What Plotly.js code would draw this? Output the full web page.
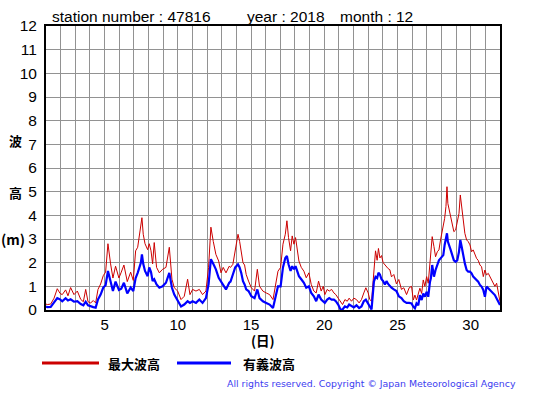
<!DOCTYPE html>
<html>
<head>
<meta charset="utf-8">
<script src="https://cdn.plot.ly/plotly-3.0.1.min.js"></script>
<style>html,body{margin:0;padding:0;background:#fff;}#chart{width:555px;height:395px;}</style>
</head>
<body>
<div id="chart"></div>
<script>
// Time in days of December 2018 (1.0 = start of day 1)
var days = [1.00,1.09,1.32,1.55,1.77,1.96,2.11,2.34,2.5,2.68,2.91,3.14,3.37,3.55,3.71,3.87,4.05,4.23,4.39,4.55,4.73,4.91,5.07,5.23,5.41,5.57,5.75,5.98,6.14,6.32,6.55,6.78,6.96,7.12,7.26,7.37,7.48,7.55,7.64,7.76,7.94,8.05,8.17,8.28,8.39,8.55,8.74,8.96,9.19,9.42,9.6,9.76,9.99,10.22,10.44,10.67,10.83,11.01,11.24,11.47,11.69,11.92,12.1,12.26,12.42,12.6,12.79,12.95,13.1,13.29,13.51,13.6,13.76,13.92,14.11,14.22,14.33,14.45,14.56,14.67,14.83,15.02,15.24,15.43,15.58,15.81,16.04,16.27,16.5,16.65,16.84,17.02,17.18,17.34,17.45,17.56,17.7,17.81,17.93,18.04,18.16,18.27,18.43,18.61,18.77,18.95,19.11,19.29,19.45,19.61,19.79,19.93,20.04,20.2,20.34,20.5,20.66,20.79,20.95,21.11,21.25,21.41,21.57,21.7,21.86,22.02,22.2,22.38,22.54,22.7,22.84,23.0,23.11,23.23,23.39,23.5,23.61,23.7,23.8,23.91,24.02,24.14,24.25,24.36,24.48,24.59,24.75,24.93,25.09,25.27,25.43,25.62,25.8,25.96,26.08,26.19,26.3,26.42,26.53,26.65,26.76,26.87,26.99,27.1,27.22,27.28,27.37,27.49,27.6,27.72,27.83,27.94,28.06,28.13,28.22,28.31,28.38,28.44,28.53,28.63,28.74,28.85,28.97,29.08,29.2,29.29,29.38,29.49,29.6,29.72,29.83,29.95,30.06,30.17,30.29,30.4,30.51,30.63,30.74,30.86,30.97,31.08,31.2,31.31,31.42,31.54,31.65,31.77,31.88,32.0];

// 最大波高 (maximum wave height, m)
var maxWave = [0.25,0.23,0.25,0.5,0.9,0.7,0.65,0.85,0.6,0.95,0.65,0.8,0.45,0.35,0.87,0.35,0.3,0.4,0.3,0.87,1.1,1.45,1.6,2.8,1.95,1.35,1.85,1.35,1.6,1.9,1.2,1.6,1.25,2.5,2.65,3.06,3.55,3.9,3.2,2.8,2.55,2.8,2.5,1.95,2.85,1.8,1.57,1.72,1.8,2.65,1.3,0.94,0.8,0.44,0.58,1.3,0.65,0.87,0.8,0.87,0.65,0.8,1.8,3.5,2.9,2.35,2.07,1.57,1.8,1.57,1.85,1.8,1.93,2.5,3.2,2.9,2.5,2.0,1.9,1.5,1.22,0.94,0.8,1.72,1.0,0.8,0.72,0.65,0.44,0.94,1.64,1.8,2.78,3.2,3.77,3.06,2.5,3.13,2.78,3.06,2.57,2.07,1.8,1.64,1.36,1.57,1.08,0.8,0.72,1.22,0.8,1.0,0.65,0.87,0.8,0.87,0.72,0.65,0.5,0.37,0.23,0.44,0.37,0.5,0.37,0.5,0.44,0.3,0.44,0.72,0.94,0.72,0.44,0.37,1.7,2.5,2.1,2.6,2.2,2.3,2.0,1.9,1.8,1.75,1.7,1.4,1.5,1.1,1.29,0.87,0.94,0.65,0.94,1.0,0.42,0.63,0.42,0.7,0.92,0.7,1.27,1.0,1.41,1.13,2.1,2.46,3.1,2.68,2.25,2.46,2.54,2.96,3.38,3.73,3.87,4.37,5.21,4.5,4.23,3.87,3.59,3.31,3.38,3.73,4.08,4.86,4.37,3.59,3.24,2.96,2.89,2.75,2.46,2.54,2.32,2.18,2.1,1.9,1.83,1.41,1.69,1.48,1.55,1.41,1.34,1.13,1.0,1.13,0.7,0.35];

// 有義波高 (significant wave height, m)
var sigWave = [0.15,0.12,0.13,0.3,0.5,0.45,0.37,0.5,0.4,0.45,0.35,0.37,0.25,0.2,0.35,0.2,0.15,0.12,0.1,0.45,0.65,0.95,1.05,1.65,1.2,0.8,1.2,0.85,0.9,1.15,0.7,0.95,0.8,1.35,1.57,1.8,2.0,2.35,1.95,1.65,1.43,1.8,1.6,1.22,1.3,1.08,0.94,1.0,1.15,1.57,0.94,0.65,0.37,0.15,0.23,0.37,0.3,0.37,0.3,0.44,0.3,0.5,1.08,2.15,1.95,1.72,1.36,1.22,1.08,0.87,1.15,1.2,1.5,1.8,1.93,1.8,1.57,1.22,1.08,0.87,0.8,0.58,0.5,0.87,0.5,0.37,0.3,0.23,0.08,0.5,1.0,1.0,1.8,2.2,2.28,1.93,1.65,1.85,1.72,1.85,1.57,1.43,1.3,1.15,0.94,1.0,0.72,0.58,0.37,0.65,0.44,0.37,0.3,0.44,0.5,0.44,0.44,0.37,0.23,0.02,0.02,0.15,0.11,0.23,0.15,0.11,0.2,0.08,0.15,0.37,0.44,0.3,0.15,0.02,1.2,1.4,1.35,1.57,1.5,1.3,1.22,1.08,1.22,1.1,1.0,0.94,0.87,0.8,0.58,0.5,0.37,0.3,0.3,0.28,0.14,0.07,0.28,0.2,0.63,0.42,0.7,0.56,0.77,0.56,1.2,1.34,1.9,1.41,1.69,1.9,2.1,2.18,2.25,2.32,2.75,3.03,3.24,2.89,2.75,2.54,2.32,2.1,2.04,2.1,2.46,2.96,2.68,2.25,1.97,1.69,1.62,1.62,1.55,1.41,1.34,1.27,1.2,1.06,0.99,0.85,0.56,0.99,0.92,0.85,0.77,0.7,0.63,0.49,0.35,0.21];

var xTickVals = [];
var xTickText = [];
for (var d = 1; d <= 32; d++) { xTickVals.push(d); xTickText.push(d % 5 === 0 ? String(d) : ''); }
var yTickVals = [0,1,2,3,4,5,6,7,8,9,10,11,12];

var L = 46, R = 500, T = 26, B = 310;
function px(x){ return (x - L) / (R - L); }
function py(y){ return (B - y) / (B - T); }

var latin = 'Liberation Sans, Arial, sans-serif';
var cjk = 'Noto Sans CJK JP, sans-serif';

var traces = [
  {x: days, y: maxWave, type: 'scatter', mode: 'lines', name: '最大波高',
   line: {color: '#cc0000', width: 1}, hoverinfo: 'skip'},
  {x: days, y: sigWave, type: 'scatter', mode: 'lines', name: '有義波高',
   line: {color: '#0000ff', width: 2.2}, hoverinfo: 'skip'}
];

var ann = [
  {text: 'station number : 47816', x: px(50), y: py(16), xanchor: 'left'},
  {text: 'year : 2018', x: px(245), y: py(16), xanchor: 'left'},
  {text: 'month : 12', x: px(338), y: py(16), xanchor: 'left'}
].map(function(a){ return Object.assign({xref:'paper', yref:'paper', yanchor:'middle', showarrow:false,
  font:{family: latin, size: 15.5, color:'#000'}}, a); });

var cjkAnn = [
  {text: '<b>波</b>', x: px(15), y: py(140)},
  {text: '<b>高</b>', x: px(15), y: py(192)},
  {text: '<b>(m)</b>', x: px(13), y: py(239), size: 14},
  {text: '<b>(日)</b>', x: px(263), y: py(340), size: 13.5},
  {text: '<b>最大波高</b>', x: px(134), y: py(363)},
  {text: '<b>有義波高</b>', x: px(269), y: py(363)}
].map(function(a){ var s = a.size || 13; delete a.size;
  return Object.assign({xref:'paper', yref:'paper', xanchor:'center', yanchor:'middle', showarrow:false,
  font:{family: cjk, size: s, color:'#000'}}, a); });

var copyAnn = [{text: 'All rights reserved. Copyright © Japan Meteorological Agency',
  x: px(518), y: py(384), xref:'paper', yref:'paper', xanchor:'right', yanchor:'middle', showarrow:false,
  font:{family: 'DejaVu Sans, Verdana, sans-serif', size: 9.4, color:'#3c3cf0'}}];

var shapes = [
  {type:'line', xref:'paper', yref:'paper', x0: px(42), x1: px(99), y0: py(363), y1: py(363), line:{color:'#cc0000', width:3}},
  {type:'line', xref:'paper', yref:'paper', x0: px(177), x1: px(231), y0: py(363), y1: py(363), line:{color:'#0000ff', width:3}}
];

var layout = {
  width: 555, height: 395,
  margin: {l: L, r: 555 - R, t: T, b: 395 - B, pad: 0},
  paper_bgcolor: '#fff', plot_bgcolor: '#fff',
  showlegend: false,
  xaxis: {range: [1, 32], tickmode: 'array', tickvals: xTickVals, ticktext: xTickText,
    showgrid: true, gridcolor: '#929292', gridwidth: 1, zeroline: false,
    showline: true, linecolor: '#000', linewidth: 2, mirror: true, ticks: '',
    tickfont: {family: latin, size: 15, color: '#000'}, fixedrange: true},
  yaxis: {range: [0, 12], tickmode: 'array', tickvals: yTickVals,
    showgrid: true, gridcolor: '#929292', gridwidth: 1, zeroline: false,
    showline: true, linecolor: '#000', linewidth: 2, mirror: true, ticks: '',
    ticklabelstandoff: 4,
    tickfont: {family: latin, size: 15.5, color: '#000'}, fixedrange: true},
  annotations: ann.concat(cjkAnn).concat(copyAnn),
  shapes: shapes
};

Plotly.newPlot('chart', traces, layout, {displayModeBar: false, staticPlot: true});
</script>
</body>
</html>
